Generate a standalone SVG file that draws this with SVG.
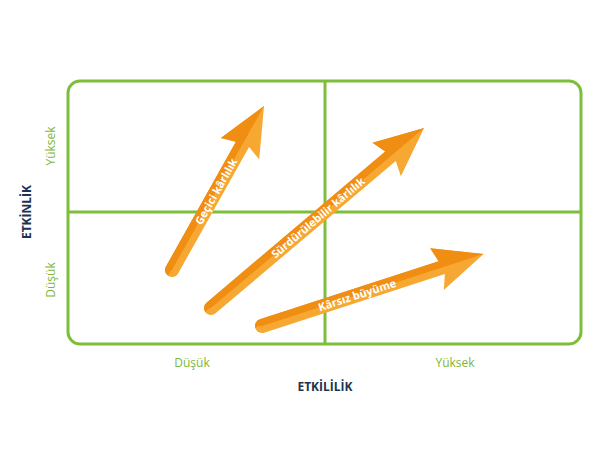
<svg xmlns="http://www.w3.org/2000/svg" width="600" height="476" viewBox="0 0 600 476">
<style>
.g{font-family:"Open Sans","Liberation Sans",sans-serif;font-size:12px;fill:#7DB83A}
.t{font-family:"Open Sans","Liberation Sans",sans-serif;font-size:12px;font-weight:bold;fill:#1B3350}
.w{font-family:"Open Sans","Liberation Sans",sans-serif;font-size:11px;font-weight:bold;fill:#fff}
.lt{fill:#F7A833}.dk{fill:#EF8E12}
</style>
<rect width="600" height="476" fill="#fff"/>
<g id="grid" fill="none" stroke="#7DBE3A" stroke-width="3">
<rect x="68" y="81" width="513" height="263" rx="12"/>
<line x1="325" y1="81" x2="325" y2="344"/>
<line x1="68" y1="212" x2="581" y2="212"/>
</g>
<g id="axes">
<text class="g" transform="translate(55,146) rotate(-90)" text-anchor="middle">Yüksek</text>
<text class="g" transform="translate(55,280) rotate(-90)" text-anchor="middle">Düşük</text>
<text class="t" transform="translate(31,212) rotate(-90)" text-anchor="middle">ETKİNLİK</text>
<text class="g" x="192" y="367" text-anchor="middle">Düşük</text>
<text class="g" x="455" y="367" text-anchor="middle">Yüksek</text>
<text class="t" x="325" y="391" text-anchor="middle">ETKİLİLİK</text>
</g>
<g id="connectors">
<g id="a1" transform="translate(172,270) rotate(-60.7)">
<path class="lt" d="M0,-7 H143 L139,-22 L188,0 L139,22 L145,7 H0 A7,7 0 0 1 0,-7Z"/>
<path class="dk" d="M0,-7 H143 L139,-22 L188,0 H0 A7,7 0 0 0 -7,0 A7,7 0 0 1 0,-7Z"/>
<text class="w" x="90" y="4" text-anchor="middle">Geçici kârlılık</text>
</g>
<g id="a2" transform="translate(211,308) rotate(-40.2)">
<path class="lt" d="M0,-7 H234 L230,-22 L279,0 L230,22 L236,7 H0 A7,7 0 0 1 0,-7Z"/>
<path class="dk" d="M0,-7 H234 L230,-22 L279,0 H0 A7,7 0 0 0 -7,0 A7,7 0 0 1 0,-7Z"/>
<text class="w" x="140" y="4" text-anchor="middle">Sürdürülebilir kârlılık</text>
</g>
<g id="a3" transform="translate(262,326) rotate(-18)">
<path class="lt" d="M0,-7 H188 L184,-22 L233,0 L184,22 L190,7 H0 A7,7 0 0 1 0,-7Z"/>
<path class="dk" d="M0,-7 H188 L184,-22 L233,0 H0 A7,7 0 0 0 -7,0 A7,7 0 0 1 0,-7Z"/>
<text class="w" x="100" y="4" text-anchor="middle">Kârsız büyüme</text>
</g>
</g>
</svg>
